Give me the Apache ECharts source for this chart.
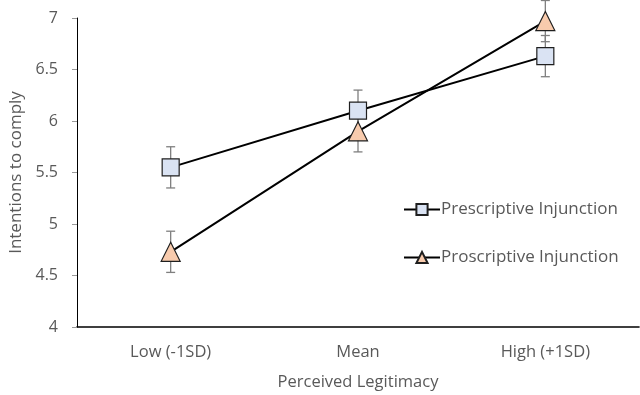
<!DOCTYPE html>
<html><head><meta charset="utf-8">
<script src="https://cdn.jsdelivr.net/npm/echarts@6/dist/echarts.min.js"></script>
<style>html,body{margin:0;padding:0;background:#fff}#c{width:640px;height:395px}</style>
</head><body><div id="c"></div>
<script>
const categories = ['Low (-1SD)', 'Mean', 'High (+1SD)'];
const prescriptive = [5.55, 6.10, 6.63];
const prescriptiveErr = [0.20, 0.20, 0.20];
const proscriptive = [4.73, 5.90, 6.97];
const proscriptiveErr = [0.20, 0.20, 0.20];
const yTicks = [4, 4.5, 5, 5.5, 6, 6.5, 7];

const font = 'Open Sans';
const grey = '#595959';

function errSeries(vals, errs) {
  return {
    type: 'custom',
    z: 1,
    silent: true,
    data: vals.map((v, i) => [i, v - errs[i], v + errs[i]]),
    renderItem: function (params, api) {
      const lo = api.coord([api.value(0), api.value(1)]);
      const hi = api.coord([api.value(0), api.value(2)]);
      const w = 4.5;
      const st = { stroke: '#7f7f7f', lineWidth: 1.3 };
      return {
        type: 'group',
        children: [
          { type: 'line', shape: { x1: lo[0], y1: lo[1], x2: hi[0], y2: hi[1] }, style: st },
          { type: 'line', shape: { x1: lo[0] - w, y1: lo[1], x2: lo[0] + w, y2: lo[1] }, style: st },
          { type: 'line', shape: { x1: hi[0] - w, y1: hi[1], x2: hi[0] + w, y2: hi[1] }, style: st }
        ]
      };
    }
  };
}

const chart = echarts.init(document.getElementById('c'));
chart.setOption({
  animation: false,
  grid: { left: 77, right: 1, top: 18, bottom: 68, containLabel: false, outerBoundsMode: 'none' },
  textStyle: { fontFamily: font },
  xAxis: {
    type: 'category',
    data: categories,
    name: 'Perceived Legitimacy',
    nameLocation: 'middle',
    nameGap: 47,
    nameTextStyle: { color: grey, fontSize: 16.5, fontFamily: font },
    axisLine: { lineStyle: { color: '#000', width: 1.6 } },
    axisTick: { show: false },
    axisLabel: { color: grey, fontSize: 16.5, fontFamily: font, margin: 17 }
  },
  yAxis: {
    type: 'value',
    min: 4, max: 7, interval: 0.5,
    name: 'Intentions to comply',
    nameLocation: 'middle',
    nameGap: 49,
    nameTextStyle: { color: grey, fontSize: 17, fontFamily: font },
    axisLine: { show: true, lineStyle: { color: '#000', width: 1 } },
    axisTick: { show: true, length: 5, lineStyle: { color: '#999' } },
    splitLine: { show: false },
    axisLabel: {
      color: grey, fontSize: 16, fontFamily: font, margin: 19,
      formatter: v => yTicks.includes(v) ? String(v) : ''
    }
  },
  legend: {
    orient: 'vertical',
    left: 398,
    top: 196,
    itemGap: 31,
    itemWidth: 36,
    itemHeight: 14,
    textStyle: { color: grey, fontSize: 17, fontFamily: font, padding: [0, 0, 0, -4] },
    data: ['Prescriptive Injunction', 'Proscriptive Injunction']
  },
  series: [
    errSeries(prescriptive, prescriptiveErr),
    errSeries(proscriptive, proscriptiveErr),
    {
      name: 'Prescriptive Injunction',
      type: 'line',
      z: 3,
      data: prescriptive,
      symbol: 'rect',
      symbolSize: 17,
      lineStyle: { color: '#000', width: 2 },
      itemStyle: { color: '#dae3f3', borderColor: '#1f1f1f', borderWidth: 1.2 }
    },
    {
      name: 'Proscriptive Injunction',
      type: 'line',
      z: 3,
      data: proscriptive,
      symbol: 'triangle',
      symbolSize: 19,
      lineStyle: { color: '#000', width: 2 },
      itemStyle: { color: '#f8cbad', borderColor: '#1f1f1f', borderWidth: 1.2 }
    }
  ]
});
</script>
</body></html>
